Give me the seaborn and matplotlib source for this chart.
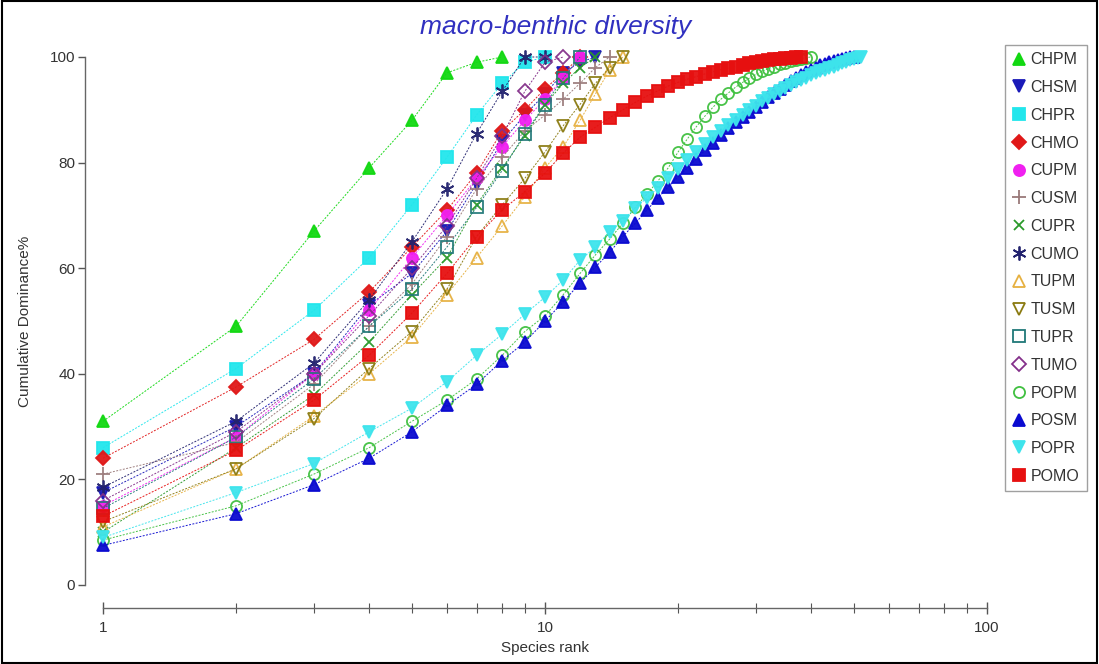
import matplotlib
matplotlib.use("Agg")
import matplotlib.pyplot as plt
import seaborn as sns
import pandas as pd
from matplotlib.lines import Line2D
from matplotlib.patches import Rectangle
from matplotlib.ticker import FixedLocator, LogLocator, NullFormatter

# ---------------- data (cumulative dominance % by species rank) ----------------
series_names = ["CHPM", "CHSM", "CHPR", "CHMO", "CUPM", "CUSM", "CUPR", "CUMO",
                "TUPM", "TUSM", "TUPR", "TUMO", "POPM", "POSM", "POPR", "POMO"]

CHPM = [31, 49, 67, 79, 88, 97, 99, 100]
CHSM = [17.5, 30, 40, 53, 59, 67, 76, 84, 89, 93, 97, 99, 100]
CHPR = [26, 41, 52, 62, 72, 81, 89, 95, 99, 100]
CHMO = [24, 37.5, 46.5, 55.5, 64, 71, 78, 86, 90, 94, 97, 100]
CUPM = [15, 28, 40, 52, 62, 70, 77, 83, 88, 92, 96, 100]
CUSM = [21, 27, 38, 49, 57, 66, 75, 81, 86, 89, 92, 95, 98, 100]
CUPR = [10, 26, 36, 46, 55, 62, 72, 79, 85, 91, 95, 98, 100]
CUMO = [18.5, 31, 42, 54, 65, 75, 85.5, 93.5, 100, 100]
TUPM = [11, 22, 32, 40, 47, 55, 62, 68, 73.5, 79, 83, 88, 93, 97.5, 100]
TUSM = [12, 22, 31.5, 41, 48, 56, 66, 72, 77, 82, 87, 91, 95, 98, 100]
TUPR = [14.5, 28, 39, 49, 56, 64, 71.5, 78.5, 85.5, 91, 96, 100]
TUMO = [16, 29, 40, 51, 60, 68, 77, 85, 93.5, 99, 100]
POPM = [8.5, 15, 21, 26, 31, 35, 39, 43.5, 48, 51, 55, 59, 62.5, 65.5, 68.5,
        71.5, 74, 76.5, 79, 82, 84.5, 86.8, 88.8, 90.5, 92, 93.2, 94.3, 95.2,
        96, 96.7, 97.3, 97.8, 98.2, 98.6, 98.9, 99.2, 99.5, 99.7, 99.9, 100]
POSM = [7.5, 13.5, 19, 24, 29, 34, 38, 42.5, 46, 50, 53.6, 57.2, 60.2, 63, 66,
        68.5, 71, 73.3, 75.4, 77.3, 79, 80.7, 82.3, 83.8, 85.2, 86.5, 87.6,
        88.6, 89.6, 90.6, 91.5, 92.4, 93.2, 94, 94.7, 95.4, 96, 96.6, 97.1,
        97.6, 98, 98.4, 98.7, 99, 99.3, 99.5, 99.7, 99.85, 99.95, 100]
POPR = [9, 17.5, 23, 29, 33.5, 38.5, 43.5, 47.5, 51.3, 54.5, 57.8, 61.5, 64,
        66.9, 69, 71.4, 73.3, 75.2, 77, 78.8, 80.5, 82, 83.5, 84.8, 86, 87.1,
        88.1, 89.1, 90, 90.8, 91.6, 92.3, 93, 93.6, 94.2, 94.7, 95.2, 95.7,
        96.1, 96.5, 96.9, 97.3, 97.6, 97.9, 98.2, 98.5, 98.8, 99.1, 99.4,
        99.6, 99.8, 100]
POMO = [13, 25.5, 35, 43.5, 51.5, 59, 66, 71, 74.5, 78, 81.8, 84.8, 86.7, 88.5,
        90, 91.4, 92.6, 93.6, 94.5, 95.2, 95.8, 96.3, 96.8, 97.2, 97.6, 97.9,
        98.2, 98.5, 98.8, 99, 99.2, 99.4, 99.55, 99.7, 99.8, 99.9, 99.95, 100]

values = {"CHPM": CHPM, "CHSM": CHSM, "CHPR": CHPR, "CHMO": CHMO, "CUPM": CUPM,
          "CUSM": CUSM, "CUPR": CUPR, "CUMO": CUMO, "TUPM": TUPM, "TUSM": TUSM,
          "TUPR": TUPR, "TUMO": TUMO, "POPM": POPM, "POSM": POSM, "POPR": POPR,
          "POMO": POMO}

x_ticks = [1, 10, 100]
y_ticks = [0, 20, 40, 60, 80, 100]

# ---------------- styles ----------------
styles = {
    "CHPM": dict(color="#12d812", marker="^", filled=True),
    "CHSM": dict(color="#1a1ab8", marker="v", filled=True),
    "CHPR": dict(color="#22e6ec", marker="s", filled=True),
    "CHMO": dict(color="#e01818", marker="D", filled=True, ms=7),
    "CUPM": dict(color="#f020f0", marker="o", filled=True),
    "CUSM": dict(color="#9a7a7a", marker="+", filled=True, ms=10),
    "CUPR": dict(color="#2a9a2a", marker="x", filled=True, ms=7),
    "CUMO": dict(color="#22226e", marker=(6, 2, 0), filled=True, ms=10),
    "TUPM": dict(color="#e6b040", marker="^", filled=False),
    "TUSM": dict(color="#8a7a10", marker="v", filled=False),
    "TUPR": dict(color="#207878", marker="s", filled=False),
    "TUMO": dict(color="#84308a", marker="D", filled=False, ms=7),
    "POPM": dict(color="#40c040", marker="o", filled=False),
    "POSM": dict(color="#0a0ad0", marker="^", filled=True),
    "POPR": dict(color="#3ee4ec", marker="v", filled=True),
    "POMO": dict(color="#e61010", marker="s", filled=True),
}

sns.set_theme(style="white")
plt.rcParams["font.family"] = ["Liberation Sans", "DejaVu Sans"]

fig = plt.figure(figsize=(10.99, 6.64), dpi=100)
ax = fig.add_axes([103 / 1099, 79 / 664, 884 / 1099, 528 / 664])

handles = []
for name in series_names:
    vals = values[name]
    df = pd.DataFrame({"rank": list(range(1, len(vals) + 1)), "dom": vals})
    st = styles[name]
    ms = st.get("ms", 8)
    mfc = st["color"] if st["filled"] else "none"
    sns.lineplot(data=df, x="rank", y="dom", ax=ax, color=st["color"],
                 marker=st["marker"], markersize=ms, markerfacecolor=mfc,
                 markeredgecolor=st["color"], markeredgewidth=1.3,
                 linewidth=0.7, linestyle=(0, (2, 1.5)), alpha=0.95,
                 sort=False, estimator=None, legend=False)
    handles.append(Line2D([], [], linestyle="none", marker=st["marker"],
                          markersize=ms, markerfacecolor=mfc,
                          markeredgecolor=st["color"], markeredgewidth=1.3,
                          label=name))

for ln in ax.lines:
    ln.set_clip_on(False)

ax.set_xscale("log")
ax.set_xlim(1, 100)
ax.set_ylim(0, 100)

ax.xaxis.set_major_locator(FixedLocator(x_ticks))
ax.set_xticklabels([str(t) for t in x_ticks])
ax.xaxis.set_minor_locator(LogLocator(base=10, subs=range(2, 10)))
ax.xaxis.set_minor_formatter(NullFormatter())
ax.yaxis.set_major_locator(FixedLocator(y_ticks))
ax.set_yticklabels([str(t) for t in y_ticks])

for side in ["top", "right"]:
    ax.spines[side].set_visible(False)
ax.spines["left"].set_position(("outward", 13))
ax.spines["bottom"].set_position(("outward", 16.5))
ax.spines["left"].set_bounds(0, 100)
ax.spines["bottom"].set_bounds(1, 100)
for side in ["left", "bottom"]:
    ax.spines[side].set_color("#666666")
    ax.spines[side].set_linewidth(1.0)

ax.tick_params(axis="x", which="major", direction="inout", length=9, width=1,
               color="#555555", labelsize=11, labelcolor="#333333", pad=5,
               bottom=True)
ax.tick_params(axis="x", which="minor", direction="inout", length=7, width=0.8,
               color="#555555", bottom=True)
ax.tick_params(axis="y", which="major", direction="out", length=5, width=1,
               color="#555555", labelsize=11, labelcolor="#333333", pad=2,
               left=True)

ax.set_xlabel("Species rank", fontsize=11, color="#333333", labelpad=4)
ax.set_ylabel("Cumulative Dominance%", fontsize=11, color="#333333", labelpad=13)
ax.grid(False)

fig.text(556 / 1099, 1 - 27 / 664, "macro-benthic diversity", ha="center",
         va="center", fontsize=19, style="italic", color="#3030c0")

leg = fig.legend(handles=handles, loc="upper left",
                 bbox_to_anchor=(1005 / 1099, 1 - 45 / 664), frameon=True,
                 fontsize=11.5, labelspacing=0.8, handletextpad=0.25,
                 handlelength=0.9, borderpad=0.45, fancybox=False,
                 borderaxespad=0)
leg.get_frame().set_edgecolor("#888888")
leg.get_frame().set_linewidth(1.0)
for t in leg.get_texts():
    t.set_color("#333333")

fig.patches.append(Rectangle((0.002, 0.002), 0.996, 0.996,
                             transform=fig.transFigure, fill=False,
                             edgecolor="black", linewidth=1.5))

fig.savefig("out.png", dpi=100)
